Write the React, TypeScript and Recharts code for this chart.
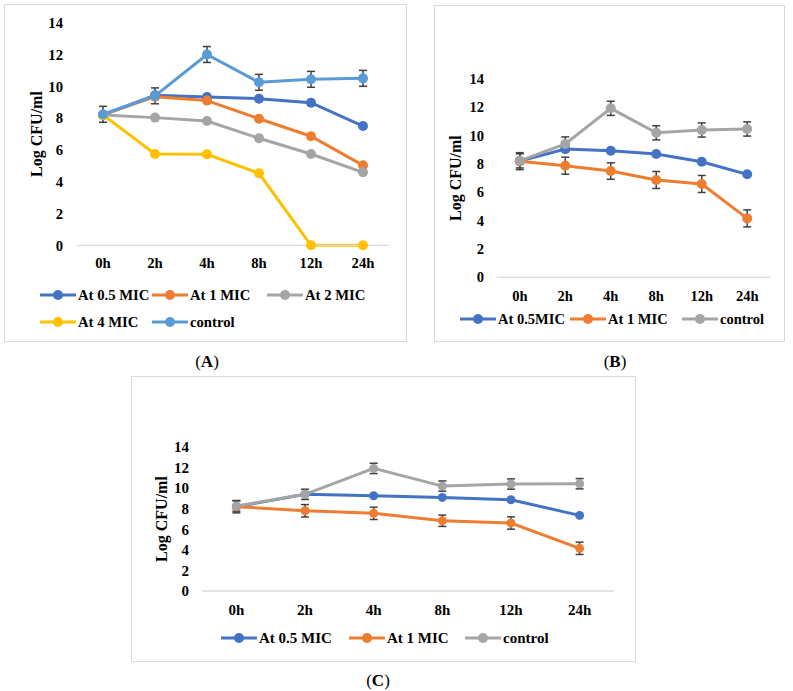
import { ErrorBar, Legend, Line, LineChart, XAxis, YAxis } from "recharts";

const hours = ["0h", "2h", "4h", "8h", "12h", "24h"];
const yTicks = [0, 2, 4, 6, 8, 10, 12, 14];

// panel A
const a05 = [8.2, 9.43, 9.33, 9.22, 8.97, 7.5];
const a1 = [8.2, 9.35, 9.1, 7.96, 6.86, 5.03];
const a2 = [8.2, 8.03, 7.82, 6.73, 5.74, 4.59];
const a4 = [8.2, 5.74, 5.72, 4.53, 0, 0];
const aCtrl = [8.24, 9.4, 12.0, 10.25, 10.44, 10.5];
const aCtrlErr = [0.5, 0.5, 0.5, 0.5, 0.5, 0.5];

// panel B
const b05 = [8.2, 9.05, 8.94, 8.7, 8.16, 7.27];
const b1 = [8.2, 7.88, 7.5, 6.87, 6.59, 4.16];
const b1Err = [0.6, 0.6, 0.58, 0.6, 0.6, 0.6];
const bCtrl = [8.22, 9.41, 11.93, 10.2, 10.4, 10.47];
const bCtrlErr = [0.5, 0.5, 0.5, 0.5, 0.5, 0.5];

// panel C
const c05 = [8.2, 9.4, 9.26, 9.1, 8.87, 7.35];
const c1 = [8.2, 7.8, 7.55, 6.83, 6.61, 4.15];
const c1Err = [0.6, 0.6, 0.6, 0.55, 0.6, 0.6];
const cCtrl = [8.26, 9.4, 11.92, 10.2, 10.4, 10.43];
const cCtrlErr = [0.5, 0.5, 0.5, 0.5, 0.5, 0.5];

const FONT = '"Liberation Serif", "Times New Roman", serif';
const ERR_COLOR = "#404040";
const AXIS_COLOR = "#D9D9D9";

type Series = { key: string; name: string; color: string; values: number[]; err?: number[] };

type PanelProps = {
  left: number;
  top: number;
  width: number;
  height: number;
  margin: { top: number; right: number; bottom: number; left: number };
  yAxisWidth: number;
  padX: number;
  xTickMargin: number;
  yTickMargin: number;
  labelX: number;
  dotR: number;
  fontSize: number;
  legendLeft: number;
  legendTop: number;
  legendCols: string;
  series: Series[];
};

function buildRows(series: Series[]) {
  return hours.map((h, i) => {
    const row: Record<string, string | number> = { hour: h };
    series.forEach((s) => {
      row[s.key] = s.values[i];
      if (s.err) row[s.key + "Err"] = s.err[i];
    });
    return row;
  });
}

function LegendIcon({ color }: { color: string }) {
  return (
    <svg width={36} height={12} style={{ display: "block", flexShrink: 0 }}>
      <line x1={0} y1={6} x2={36} y2={6} stroke={color} strokeWidth={3} />
      <circle cx={18} cy={6} r={5} fill={color} />
    </svg>
  );
}

function Panel(p: PanelProps) {
  const inner = { w: p.width - 2, h: p.height - 2 };
  const tickStyle = { fill: "#000", fontSize: p.fontSize, fontWeight: 700, fontFamily: FONT };
  return (
    <div
      style={{
        position: "absolute",
        left: p.left,
        top: p.top,
        width: p.width,
        height: p.height,
        boxSizing: "border-box",
        border: `1px solid ${AXIS_COLOR}`,
        background: "#fff",
      }}
    >
      <LineChart width={inner.w} height={inner.h} data={buildRows(p.series)} margin={p.margin}>
        <XAxis
          dataKey="hour"
          height={30}
          padding={{ left: p.padX, right: p.padX }}
          axisLine={{ stroke: AXIS_COLOR, strokeWidth: 1.3 }}
          tickLine={false}
          tickMargin={p.xTickMargin}
          tick={tickStyle}
          interval={0}
        />
        <YAxis
          width={p.yAxisWidth}
          domain={[0, 14]}
          ticks={yTicks}
          interval={0}
          axisLine={false}
          tickLine={false}
          tickMargin={p.yTickMargin}
          tick={tickStyle}
          label={({ viewBox }: any) => {
            const cy = viewBox.y + viewBox.height / 2;
            return (
              <text
                x={p.labelX}
                y={cy}
                transform={`rotate(-90 ${p.labelX} ${cy})`}
                textAnchor="middle"
                dominantBaseline="central"
                fontFamily={FONT}
                fontWeight={700}
                fontSize={16}
                fill="#000"
              >
                Log CFU/ml
              </text>
            );
          }}
        />
        <Legend
          layout="horizontal"
          verticalAlign="middle"
          align="center"
          wrapperStyle={{ left: p.legendLeft, top: p.legendTop, width: inner.w - p.legendLeft }}
          content={() => (
            <div
              style={{
                display: "grid",
                gridTemplateColumns: p.legendCols,
                gridAutoRows: 27,
                alignItems: "center",
                fontFamily: FONT,
                fontWeight: 700,
                fontSize: p.fontSize,
                color: "#000",
              }}
            >
              {p.series.map((s) => (
                <div key={s.key} style={{ display: "flex", alignItems: "center", whiteSpace: "nowrap" }}>
                  <LegendIcon color={s.color} />
                  <span style={{ marginLeft: 2 }}>{s.name}</span>
                </div>
              ))}
            </div>
          )}
        />
        {p.series.map((s) => (
          <Line
            key={s.key}
            dataKey={s.key}
            name={s.name}
            stroke={s.color}
            strokeWidth={3}
            dot={{ r: p.dotR, fill: s.color, stroke: s.color, strokeWidth: 0 }}
            activeDot={false}
            isAnimationActive={false}
          >
            {s.err && (
              <ErrorBar
                dataKey={s.key + "Err"}
                direction="y"
                width={4}
                stroke={ERR_COLOR}
                strokeWidth={1.5}
                isAnimationActive={false}
              />
            )}
          </Line>
        ))}
      </LineChart>
    </div>
  );
}

function PanelTag({ x, y, letter }: { x: number; y: number; letter: string }) {
  return (
    <div
      style={{
        position: "absolute",
        left: x - 30,
        top: y - 11,
        width: 60,
        height: 22,
        lineHeight: "22px",
        textAlign: "center",
        fontFamily: FONT,
        fontSize: 17,
        color: "#000",
      }}
    >
      (<b>{letter}</b>)
    </div>
  );
}

const seriesA: Series[] = [
  { key: "m05", name: "At 0.5 MIC", color: "#4472C4", values: a05 },
  { key: "m1", name: "At 1 MIC", color: "#ED7D31", values: a1 },
  { key: "m2", name: "At 2 MIC", color: "#A5A5A5", values: a2 },
  { key: "m4", name: "At 4 MIC", color: "#FFC000", values: a4 },
  { key: "ctrl", name: "control", color: "#5B9BD5", values: aCtrl, err: aCtrlErr },
];

const seriesB: Series[] = [
  { key: "m05", name: "At 0.5MIC", color: "#4472C4", values: b05 },
  { key: "m1", name: "At 1 MIC", color: "#ED7D31", values: b1, err: b1Err },
  { key: "ctrl", name: "control", color: "#A5A5A5", values: bCtrl, err: bCtrlErr },
];

const seriesC: Series[] = [
  { key: "m05", name: "At 0.5 MIC", color: "#4472C4", values: c05 },
  { key: "m1", name: "At 1 MIC", color: "#ED7D31", values: c1, err: c1Err },
  { key: "ctrl", name: "control", color: "#A5A5A5", values: cCtrl, err: cCtrlErr },
];

export default function App() {
  return (
    <div style={{ position: "absolute", left: 0, top: 0, width: 793, height: 691, background: "#fff" }}>
      <Panel
        left={4}
        top={4}
        width={403}
        height={338}
        margin={{ top: 17.7, right: 17, bottom: 65.7, left: 0 }}
        yAxisWidth={72}
        padX={26}
        xTickMargin={6.5}
        yTickMargin={8}
        labelX={31}
        dotR={5}
        fontSize={14.7}
        legendLeft={35}
        legendTop={276.5}
        legendCols="112px 115px auto"
        series={seriesA}
      />
      <Panel
        left={434}
        top={5}
        width={351}
        height={337}
        margin={{ top: 73, right: 14, bottom: 33.7, left: 0 }}
        yAxisWidth={62}
        padX={22.8}
        xTickMargin={7.3}
        yTickMargin={7}
        labelX={21}
        dotR={5}
        fontSize={14.5}
        legendLeft={25}
        legendTop={299.5}
        legendCols="110px 112px auto"
        series={seriesB}
      />
      <Panel
        left={131}
        top={376}
        width={505}
        height={286}
        margin={{ top: 70, right: 21, bottom: 40, left: 0 }}
        yAxisWidth={70}
        padX={34.4}
        xTickMargin={7.1}
        yTickMargin={7}
        labelX={29}
        dotR={4.5}
        fontSize={15}
        legendLeft={89}
        legendTop={247.5}
        legendCols="128px 116px auto"
        series={seriesC}
      />
      <PanelTag x={207} y={362} letter="A" />
      <PanelTag x={615} y={362} letter="B" />
      <PanelTag x={378} y={681} letter="C" />
    </div>
  );
}
